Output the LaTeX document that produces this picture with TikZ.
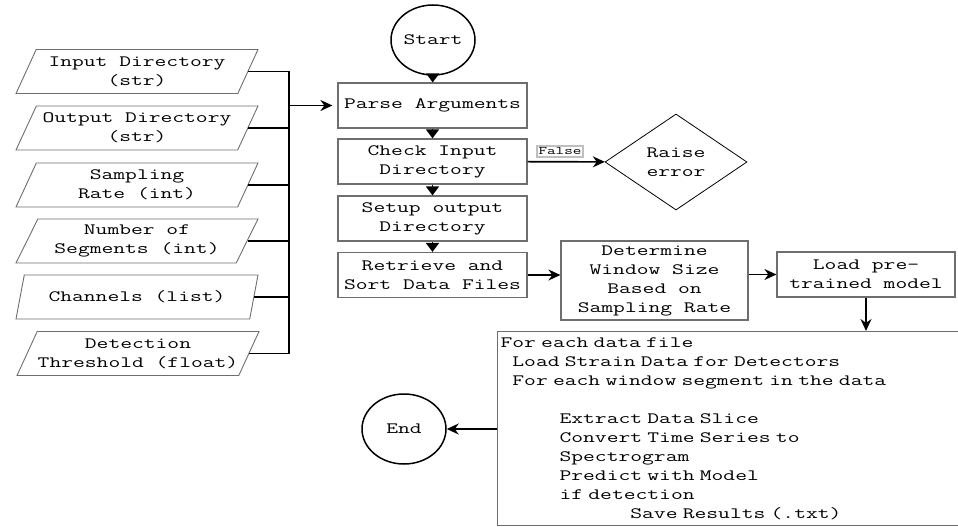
\documentclass[tikz,border=0pt]{standalone}
\usepackage{fontspec}
\newfontfamily\codefont[FakeStretch=1.45]{Latin Modern Mono}
\usepackage{tikz}
\usetikzlibrary{arrows.meta,calc,shapes.geometric}
\definecolor{boxgray}{HTML}{6E6E6E}
\newcommand{\pad}[1]{\hspace*{#1\fontcharwd\font`\x}}

\begin{document}
\begin{tikzpicture}[x=1pt,y=-1pt,inner sep=0pt,
  font=\codefont\fontsize{15.8}{19}\selectfont,
  proc/.style={draw=boxgray,line width=1.2pt,minimum width=189pt,minimum height=45pt,align=center},
  iobox/.style={trapezium,trapezium left angle=56,trapezium right angle=124,trapezium stretches body,
    draw=boxgray,line width=0.9pt,minimum width=242pt,minimum height=44pt,align=center},
  term/.style={ellipse,draw,line width=1.5pt,minimum width=84pt,minimum height=70pt},
  wire/.style={line width=1.6pt},
  down/.style={wire,-{Triangle[width=13pt,length=9pt]}},
  side/.style={wire,-{Stealth[length=12pt,width=11pt]}},
  lbl/.style={draw=black!25,fill=white,font=\codefont\fontsize{11.5}{12}\selectfont,inner xsep=1.5pt,inner ysep=2pt}]
\useasboundingbox (0,0) rectangle (958,527);

\node[iobox] (in1) at (137,71.5) {Input Directory\\(str)};
\node[iobox] (in2) at (137,128) {Output Directory\\(str)};
\node[iobox] (in3) at (137,185) {Sampling\\Rate (int)};
\node[iobox] (in4) at (137,241) {Number of\\Segments (int)};
\node[iobox] (in5) at (137,297) {Channels (list)};
\node[iobox] (in6) at (138,353.5) {Detection\\Threshold (float)};
\coordinate (bus) at (289,0);

\node[term] (start) at (433,40) {Start};
\node[proc] (parse) at (432.5,105.5) {Parse Arguments};
\node[proc] (check) at (432.5,161.5) {Check Input\\Directory};
\node[proc] (setup) at (432.5,218.5) {Setup output\\Directory};
\node[proc] (retr) at (432.5,275) {Retrieve and\\Sort Data Files};
\node[diamond,draw,line width=0.8pt,aspect=1.48,minimum width=142pt,minimum height=96pt,align=center]
  (err) at (676,162) {Raise\\error};
\node[proc,minimum width=187pt,minimum height=79pt] (win) at (654.5,280.5)
  {Determine\\Window Size\\Based on\\Sampling Rate};
\node[proc,minimum width=178pt] (load) at (866,274.5) {Load pre-\\trained model};
\node[draw=boxgray,line width=1.2pt,anchor=north west,text width=470pt,minimum height=194pt,
  inner xsep=3pt,align=left] (loop) at (497,331)
  {For each data file\\
   \pad{1}Load Strain Data for Detectors\\
   \pad{1}For each window segment in the data\\[19pt]
   \pad{5}Extract Data Slice\\
   \pad{5}Convert Time Series to\\
   \pad{5}Spectrogram\\
   \pad{5}Predict with Model\\
   \pad{5}if detection\\
   \pad{11}Save Results (.txt)};
\node[term] (fin) at (404,429) {End};

% inputs into one bus
\foreach \i in {1,...,6} \draw[wire] (in\i.east) -- (in\i.east -| bus);
\draw[wire] (in1.east -| bus) -- (in6.east -| bus);
\draw[side,shorten >=5pt] (parse.west -| bus) -- (parse.west);

\path[down]
  (start) edge (parse) (parse) edge (check) (check) edge (setup) (setup) edge (retr);
\path[side]
  (retr) edge (retr -| win.west)
  (win.east |- load) edge (load)
  (loop.west |- fin) edge (fin);
\draw[side] (check) -- node[lbl,pos=0.42,above=4pt] {False} (err);
\draw[side] (load.south) -- (load.south |- loop.north);

\end{tikzpicture}
\end{document}
